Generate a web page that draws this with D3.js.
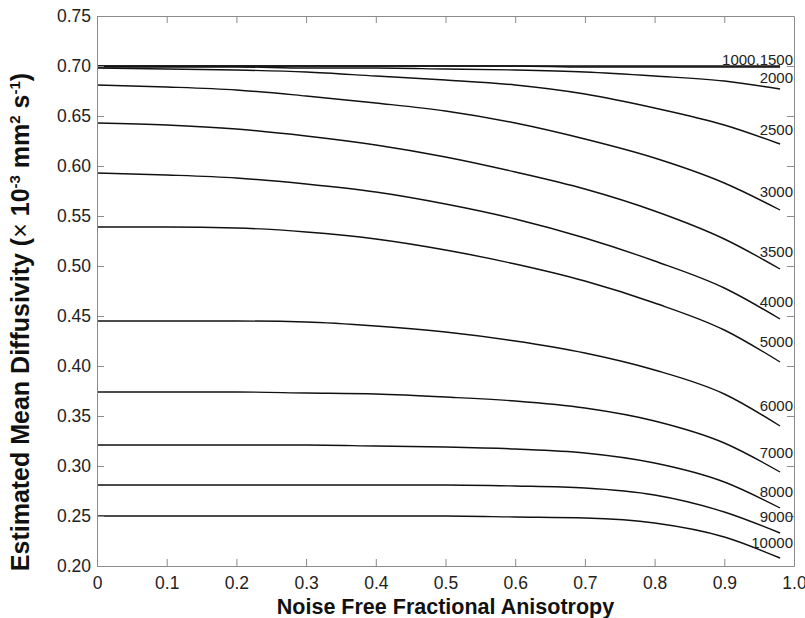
<!DOCTYPE html>
<html>
<head>
<meta charset="utf-8">
<script src="https://cdn.jsdelivr.net/npm/d3@7"></script>
<style>
  html, body { margin: 0; padding: 0; background: #fff; }
  svg { display: block; font-family: "Liberation Sans", Arial, sans-serif; }
</style>
</head>
<body>
<svg id="chart" width="805" height="618"></svg>
<script>
// === DATA ===
const fa = [0, 0.1, 0.2, 0.3, 0.4, 0.5, 0.6, 0.7, 0.8, 0.9, 0.98];

const md1000  = [0.700, 0.700, 0.700, 0.700, 0.700, 0.700, 0.700, 0.700, 0.700, 0.700, 0.700];
const md1500  = [0.700, 0.700, 0.700, 0.700, 0.700, 0.700, 0.700, 0.699, 0.699, 0.699, 0.699];
const md2000  = [0.699, 0.699, 0.699, 0.698, 0.698, 0.697, 0.696, 0.694, 0.690, 0.685, 0.677];
const md2500  = [0.698, 0.697, 0.696, 0.694, 0.690, 0.686, 0.681, 0.672, 0.658, 0.641, 0.622];
const md3000  = [0.681, 0.679, 0.676, 0.670, 0.663, 0.655, 0.643, 0.627, 0.608, 0.583, 0.556];
const md3500  = [0.643, 0.641, 0.637, 0.630, 0.621, 0.609, 0.594, 0.577, 0.555, 0.527, 0.497];
const md4000  = [0.593, 0.591, 0.588, 0.582, 0.574, 0.562, 0.547, 0.528, 0.505, 0.478, 0.447];
const md5000  = [0.539, 0.539, 0.538, 0.534, 0.527, 0.516, 0.502, 0.485, 0.463, 0.436, 0.404];
const md6000  = [0.445, 0.445, 0.445, 0.444, 0.440, 0.434, 0.425, 0.413, 0.396, 0.372, 0.340];
const md7000  = [0.374, 0.374, 0.374, 0.373, 0.372, 0.369, 0.365, 0.358, 0.345, 0.323, 0.294];
const md8000  = [0.321, 0.321, 0.321, 0.321, 0.320, 0.319, 0.317, 0.313, 0.303, 0.284, 0.258];
const md9000  = [0.281, 0.281, 0.281, 0.281, 0.281, 0.281, 0.280, 0.278, 0.271, 0.254, 0.233];
const md10000 = [0.250, 0.250, 0.250, 0.250, 0.250, 0.250, 0.249, 0.248, 0.243, 0.229, 0.208];

const series = [md1000, md1500, md2000, md2500, md3000, md3500, md4000,
                md5000, md6000, md7000, md8000, md9000, md10000];

const curveLabels = ["1000,1500", "2000", "2500", "3000", "3500", "4000",
                     "5000", "6000", "7000", "8000", "9000", "10000"];

const xTicks = [0, 0.1, 0.2, 0.3, 0.4, 0.5, 0.6, 0.7, 0.8, 0.9, 1.0];
const xTickLabels = ["0", "0.1", "0.2", "0.3", "0.4", "0.5", "0.6", "0.7", "0.8", "0.9", "1.0"];
const yTicks = [0.20, 0.25, 0.30, 0.35, 0.40, 0.45, 0.50, 0.55, 0.60, 0.65, 0.70, 0.75];

// label anchor heights (layout only, in axis units)
const labelPos = [0.706, 0.688, 0.636, 0.574, 0.514, 0.464, 0.424, 0.360, 0.313, 0.274, 0.249, 0.223];

// === LAYOUT ===
const margin = { left: 97, top: 16, right: 794, bottom: 566 };
const axisColor = "#8c8c8c";
const tickLen = 7;

const svg = d3.select("#chart");
const x = d3.scaleLinear().domain([0, 1]).range([margin.left, margin.right]);
const y = d3.scaleLinear().domain([0.2, 0.75]).range([margin.bottom, margin.top]);

// === CURVES ===
const line = d3.line()
  .x((d, i) => x(fa[i]))
  .y(d => y(d))
  .curve(d3.curveMonotoneX);

svg.append("g")
  .selectAll("path")
  .data(series)
  .join("path")
  .attr("d", line)
  .attr("fill", "none")
  .attr("stroke", "#111")
  .attr("stroke-width", 1.4);

// === AXES ===
// bottom
svg.append("g")
  .attr("transform", `translate(0,${margin.bottom})`)
  .call(d3.axisBottom(x).tickValues(xTicks).tickSizeInner(-tickLen).tickSizeOuter(0)
    .tickPadding(11).tickFormat((d, i) => xTickLabels[i]))
  .call(g => g.select(".domain").attr("stroke", axisColor))
  .call(g => g.selectAll(".tick line").attr("stroke", axisColor))
  .call(g => g.selectAll(".tick text").attr("font-size", 17.5).attr("fill", "#222")
    .attr("font-family", "Liberation Sans, Arial, sans-serif"));

// top
svg.append("g")
  .attr("transform", `translate(0,${margin.top})`)
  .call(d3.axisTop(x).tickValues(xTicks.slice(1, -1)).tickSizeInner(-tickLen).tickSizeOuter(0).tickFormat(""))
  .call(g => g.select(".domain").attr("stroke", axisColor))
  .call(g => g.selectAll(".tick line").attr("stroke", axisColor));

// left
svg.append("g")
  .attr("transform", `translate(${margin.left},0)`)
  .call(d3.axisLeft(y).tickValues(yTicks).tickSizeInner(-tickLen).tickSizeOuter(0)
    .tickPadding(6).tickFormat(d3.format(".2f")))
  .call(g => g.select(".domain").attr("stroke", axisColor))
  .call(g => g.selectAll(".tick line").attr("stroke", axisColor))
  .call(g => g.selectAll(".tick text").attr("font-size", 17.5).attr("fill", "#222")
    .attr("font-family", "Liberation Sans, Arial, sans-serif"));

// right
svg.append("g")
  .attr("transform", `translate(${margin.right},0)`)
  .call(d3.axisRight(y).tickValues(yTicks.slice(1, -1)).tickSizeInner(-tickLen).tickSizeOuter(0).tickFormat(""))
  .call(g => g.select(".domain").attr("stroke", axisColor))
  .call(g => g.selectAll(".tick line").attr("stroke", axisColor));

// === CURVE LABELS ===
svg.append("g")
  .selectAll("text")
  .data(curveLabels)
  .join("text")
  .attr("x", margin.right - 1)
  .attr("y", (d, i) => y(labelPos[i]))
  .attr("dy", "0.35em")
  .attr("text-anchor", "end")
  .attr("font-size", 15)
  .attr("fill", "#222")
  .text(d => d);

// === AXIS TITLES ===
svg.append("text")
  .attr("x", (margin.left + margin.right) / 2)
  .attr("y", 614)
  .attr("text-anchor", "middle")
  .attr("font-size", 21.5)
  .attr("font-weight", "bold")
  .attr("fill", "#111")
  .text("Noise Free Fractional Anisotropy");

const yTitle = svg.append("text")
  .attr("transform", "translate(29,322) rotate(-90)")
  .attr("text-anchor", "middle")
  .attr("font-size", 25)
  .attr("font-weight", "bold")
  .attr("fill", "#111");
yTitle.append("tspan").text("Estimated Mean Diffusivity (");
yTitle.append("tspan").attr("font-weight", "normal").text("\u00d7");
yTitle.append("tspan").text(" 10");
yTitle.append("tspan").attr("font-size", 15).attr("dy", -9).text("-3");
yTitle.append("tspan").attr("dy", 9).text(" mm");
yTitle.append("tspan").attr("font-size", 15).attr("dy", -9).text("2");
yTitle.append("tspan").attr("dy", 9).text(" s");
yTitle.append("tspan").attr("font-size", 15).attr("dy", -9).text("-1");
yTitle.append("tspan").attr("dy", 9).text(")");
</script>
</body>
</html>
